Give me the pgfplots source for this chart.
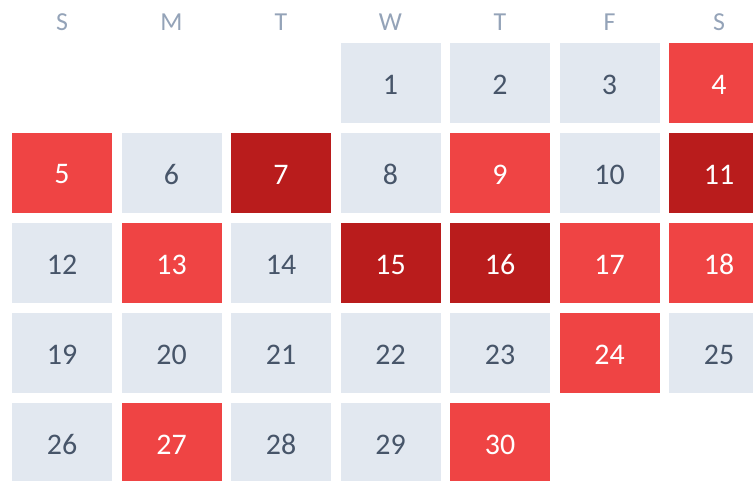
\documentclass[border=0pt]{standalone}
\usepackage{pgfplots}
\usepackage{pgfplotstable}
\usepackage{fontspec}
\setmainfont{Carlito}
\pgfplotsset{compat=1.18}
\definecolor{cellgray}{HTML}{E2E8F0}
\definecolor{cellred}{HTML}{EF4444}
\definecolor{celldark}{HTML}{B91C1C}
\definecolor{numtext}{HTML}{475569}
\definecolor{headtext}{HTML}{94A3B8}
\pgfdeclareplotmark{cell}{\pgfpathrectangle{\pgfpoint{-50bp}{-40bp}}{\pgfpoint{100bp}{80bp}}\pgfusepathqfill}
\pgfplotstableread{
col row day
3 0 1
4 0 2
5 0 3
1 1 6
3 1 8
5 1 10
0 2 12
2 2 14
0 3 19
1 3 20
2 3 21
3 3 22
4 3 23
6 3 25
0 4 26
2 4 28
3 4 29
}\graygrid
\pgfplotstableread{
col row day
6 0 4
0 1 5
4 1 9
1 2 13
5 2 17
6 2 18
5 3 24
1 4 27
4 4 30
}\redgrid
\pgfplotstableread{
col row day
2 1 7
6 1 11
3 2 15
4 2 16
}\darkgrid
\pgfplotstableread{
col row lab
0 -0.678 S
1 -0.678 M
2 -0.678 T
3 -0.678 W
4 -0.678 T
5 -0.678 F
6 -0.678 S
}\heads
\begin{document}
\begin{tikzpicture}
\begin{axis}[
  scale only axis, width=753bp, height=481bp,
  xmin=-0.5662, xmax=6.3105, ymin=-0.9222, ymax=4.4222,
  y dir=reverse, axis lines=none, clip=true,
]
\addplot[only marks, mark=cell, color=cellgray,
  nodes near coords, point meta=explicit symbolic,
  every node near coord/.style={anchor=center, yshift=-1.5bp, text=numtext, font=\fontsize{30}{34}\selectfont}]
  table[x=col, y=row, meta=day] {\graygrid};
\addplot[only marks, mark=cell, color=cellred,
  nodes near coords, point meta=explicit symbolic,
  every node near coord/.style={anchor=center, yshift=-1.5bp, text=white, font=\fontsize{30}{34}\selectfont}]
  table[x=col, y=row, meta=day] {\redgrid};
\addplot[only marks, mark=cell, color=celldark,
  nodes near coords, point meta=explicit symbolic,
  every node near coord/.style={anchor=center, yshift=-1.5bp, text=white, font=\fontsize{30}{34}\selectfont}]
  table[x=col, y=row, meta=day] {\darkgrid};
\addplot[only marks, mark=none, draw=none,
  nodes near coords, point meta=explicit symbolic,
  every node near coord/.style={anchor=center, text=headtext, font=\fontsize{26}{30}\selectfont}]
  table[x=col, y=row, meta=lab] {\heads};
\end{axis}
\pgfresetboundingbox
\path[use as bounding box] (current axis.south west) rectangle (current axis.north east);
\end{tikzpicture}
\end{document}
